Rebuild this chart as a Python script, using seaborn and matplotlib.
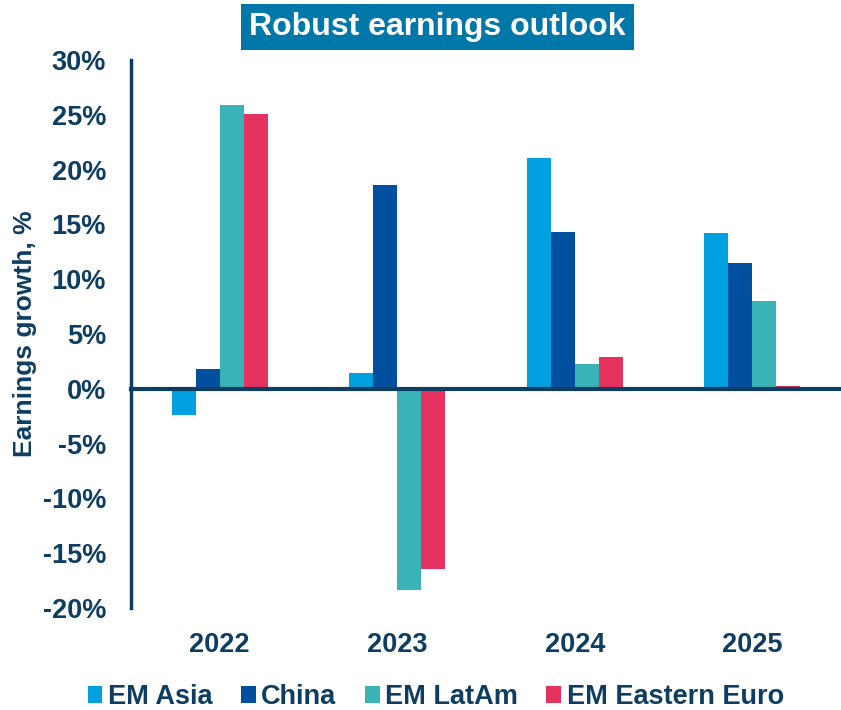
import matplotlib
matplotlib.use("Agg")
import matplotlib.pyplot as plt
from matplotlib.patches import Patch
import seaborn as sns
import pandas as pd

# Earnings growth (%) by region and year
years = ["2022", "2023", "2024", "2025"]
regions = ["EM Asia", "China", "EM LatAm", "EM Eastern Euro"]
em_asia = [-2.4, 1.4, 21.1, 14.2]
china = [1.8, 18.6, 14.3, 11.5]
em_latam = [25.9, -18.4, 2.3, 8.0]
em_eastern_euro = [25.1, -16.4, 2.9, 0.3]
y_ticks = [-20, -15, -10, -5, 0, 5, 10, 15, 20, 25, 30]

colors = ["#009FE0", "#00509F", "#3AB3B6", "#E5325E"]
navy = "#0E3D62"

rows = []
for region, vals in zip(regions, [em_asia, china, em_latam, em_eastern_euro]):
    for yr, v in zip(years, vals):
        rows.append({"year": yr, "region": region, "growth": v})
df = pd.DataFrame(rows)

sns.set_style("white")
plt.rcParams["font.family"] = ["Liberation Sans", "DejaVu Sans"]
plt.rcParams["font.weight"] = "bold"

fig = plt.figure(figsize=(8.41, 7.10), dpi=100)
ax = fig.add_axes([131 / 841, 1 - 608 / 710, 1 - 131 / 841, (608 - 60) / 710])

sns.barplot(data=df, x="year", y="growth", hue="region", order=years,
            hue_order=regions, palette=colors, width=0.54, saturation=1,
            linewidth=0, legend=False, ax=ax)

ax.set_xlim(-0.5, 3.5)
ax.set_ylim(-20, 30)
ax.set_yticks(y_ticks)
ax.set_yticklabels([f"{t}%" for t in y_ticks])
ax.tick_params(axis="y", direction="out", length=7, width=2.5, color=navy,
               labelsize=19.5, labelcolor=navy, pad=11)

# zero line with separator ticks between years
for s in ["top", "right"]:
    ax.spines[s].set_visible(False)
ax.spines["left"].set_color(navy)
ax.spines["left"].set_linewidth(2.5)
ax.spines["bottom"].set_position(("data", 0))
ax.spines["bottom"].set_color(navy)
ax.spines["bottom"].set_linewidth(3)
ax.spines["bottom"].set_zorder(5)
ax.set_xticks([0.5, 1.5, 2.5])
ax.set_xticklabels([])
ax.tick_params(axis="x", direction="out", length=7, width=2.5, color=navy)
ax.set_xlabel("")

# year labels along the bottom
sec = ax.secondary_xaxis("bottom")
sec.set_xticks(range(len(years)))
sec.set_xticklabels(years)
sec.tick_params(length=0, labelsize=19.5, labelcolor=navy, pad=17)
sec.spines["bottom"].set_visible(False)

ax.set_ylabel("Earnings growth, %", fontsize=19, fontweight="bold",
              color=navy)
ax.yaxis.set_label_coords(-0.133, 0.5)

fig.text(0.52, 0.962, "Robust earnings outlook", ha="center", va="center",
         fontsize=23, fontweight="bold", color="white",
         bbox=dict(boxstyle="square,pad=0.25", facecolor="#0077A9",
                   edgecolor="none"))

handles = [Patch(facecolor=c, edgecolor="none") for c in colors]
fig.legend(handles, regions, loc="center", bbox_to_anchor=(0.518, 1 - 697 / 710),
           ncol=4, frameon=False, handlelength=0.55, handleheight=0.55,
           handletextpad=0.2, columnspacing=1.05,
           prop={"size": 19.5, "weight": "bold"}, labelcolor=navy)

fig.savefig("out.png", dpi=100)
